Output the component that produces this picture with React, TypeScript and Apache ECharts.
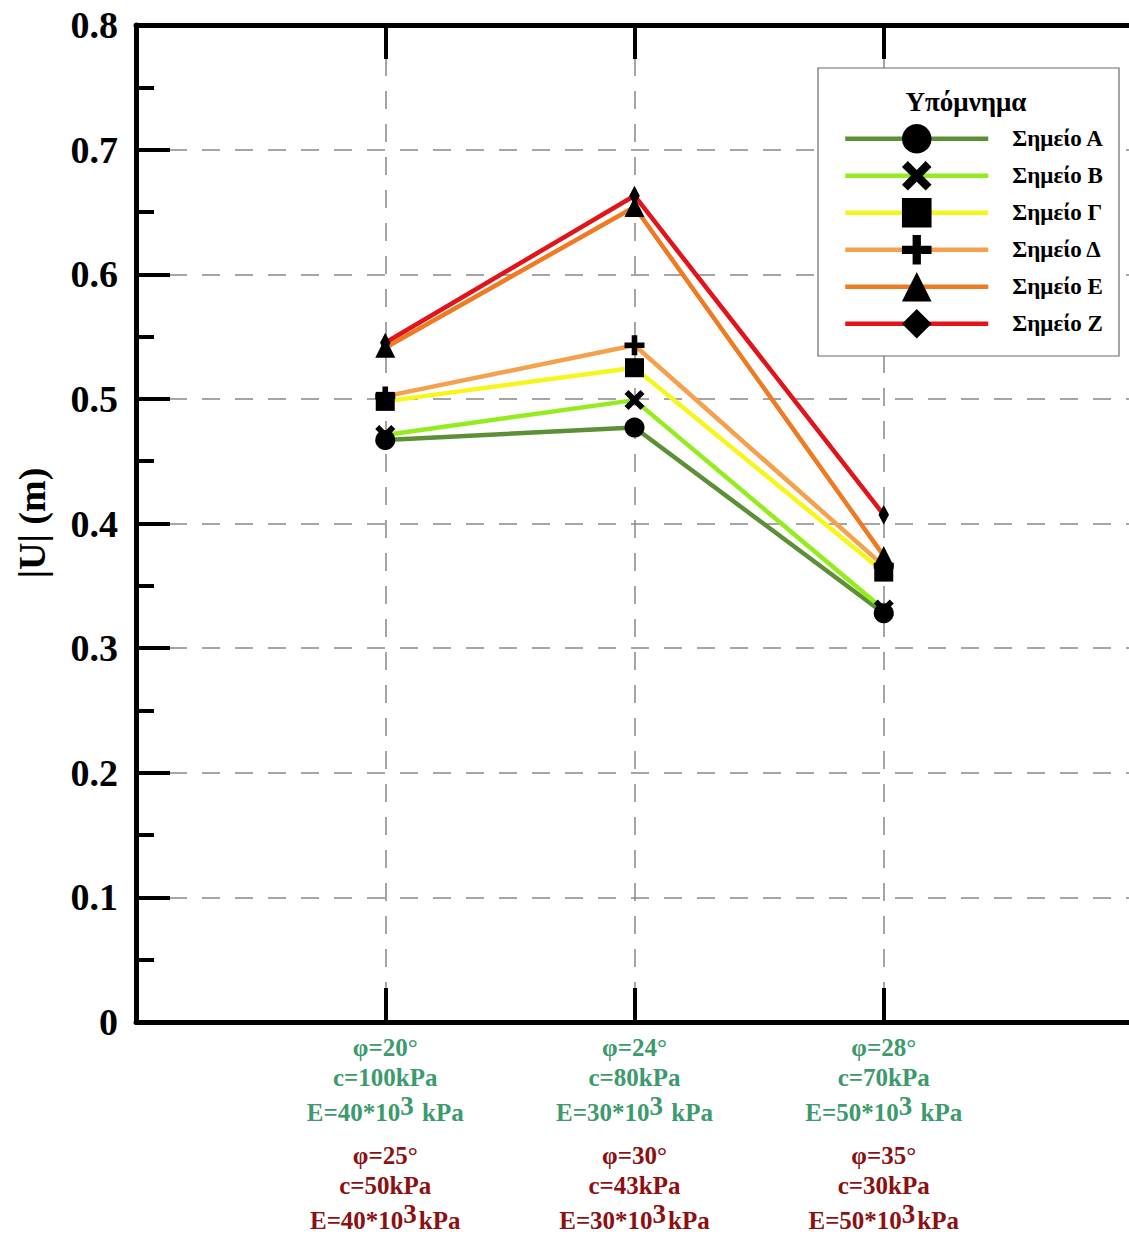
import React, { useEffect, useRef } from 'react';
import * as echarts from 'echarts';

// Series (monitoring points) and their displacement magnitudes |U| in metres
const seriesNames = ['Σημείο Α', 'Σημείο Β', 'Σημείο Γ', 'Σημείο Δ', 'Σημείο Ε', 'Σημείο Ζ'];
const xPositions = [1, 2, 3];
const pointA = [0.467, 0.477, 0.328];
const pointB = [0.471, 0.499, 0.331];
const pointG = [0.498, 0.525, 0.361];
const pointD = [0.502, 0.543, 0.366];
const pointE = [0.541, 0.654, 0.374];
const pointZ = [0.545, 0.663, 0.407];
const seriesValues = [pointA, pointB, pointG, pointD, pointE, pointZ];
const seriesColors = ['#5d8f36', '#94ec1e', '#f6f61c', '#f4a04c', '#ee7a22', '#e2141a'];

// Soil parameter sets shown under each position
const phiSet1 = ['φ=20°', 'φ=24°', 'φ=28°'];
const cSet1 = ['c=100kPa', 'c=80kPa', 'c=70kPa'];
const eSet1 = ['40', '30', '50'];
const phiSet2 = ['φ=25°', 'φ=30°', 'φ=35°'];
const cSet2 = ['c=50kPa', 'c=43kPa', 'c=30kPa'];
const eSet2 = ['40', '30', '50'];

const FONT = "'Liberation Serif', 'Times New Roman', serif";

const SYMBOL_CROSS = 'path://M2,0L5,3L8,0L10,2L7,5L10,8L8,10L5,7L2,10L0,8L3,5L0,2Z';
const SYMBOL_PLUS = 'path://M3.6,0H6.4V3.6H10V6.4H6.4V10H3.6V6.4H0V3.6H3.6Z';
const SYMBOL_DIAMOND = 'path://M5,0L10,9.5L5,19L0,9.5Z';
const seriesSymbols = ['circle', SYMBOL_CROSS, 'rect', SYMBOL_PLUS, 'triangle', SYMBOL_DIAMOND];
const seriesSymbolSizes = [20, 20, 19, 20, 20, 20];

const GREEN = '#3c9a6c';
const RED = '#8c1010';

export default function App() {
  const ref = useRef<HTMLDivElement>(null);

  useEffect(() => {
    if (!ref.current) return;
    const chart = echarts.init(ref.current, undefined, { renderer: 'svg' });

    const xLabel = (v: number) => {
      const i = xPositions.indexOf(v);
      if (i < 0) return '';
      return [
        `{g|${phiSet1[i]}}`,
        `{g|${cSet1[i]}}`,
        `{ge|E=${eSet1[i]}*10}{gs|3}{ge| kPa}`,
        `{sp| }`,
        `{r|${phiSet2[i]}}`,
        `{r|${cSet2[i]}}`,
        `{re|E=${eSet2[i]}*10}{rs|3}{re|kPa}`,
      ].join('\n');
    };

    const base = { fontFamily: FONT, fontWeight: 'bold' as const, fontSize: 25 };
    const sup = { ...base, fontSize: 27, lineHeight: 30, verticalAlign: 'top', padding: [0, 2, 0, 0] };

    const option: any = {
      animation: false,
      backgroundColor: '#ffffff',
      grid: {
        left: 136,
        top: 25,
        width: 997,
        bottom: 214,
        containLabel: false,
        outerBoundsMode: 'none',
      },
      xAxis: [
        {
          type: 'value',
          min: 0,
          max: 4,
          interval: 1,
          axisLine: { show: true, lineStyle: { color: '#000', width: 5 } },
          axisTick: { show: true, inside: true, length: 34, lineStyle: { color: '#000', width: 4 } },
          splitLine: { show: true, lineStyle: { color: '#888', width: 1.5, type: [18, 15] } },
          axisLabel: {
            margin: 10,
            formatter: xLabel,
            rich: {
              g: { ...base, color: GREEN, lineHeight: 30 },
              ge: { ...base, color: GREEN, lineHeight: 40 },
              gs: { ...sup, color: GREEN },
              sp: { fontSize: 2, lineHeight: 8 },
              r: { ...base, color: RED, lineHeight: 30 },
              re: { ...base, color: RED, lineHeight: 40 },
              rs: { ...sup, color: RED },
            },
          },
        },
        {
          type: 'value',
          position: 'top',
          min: 0,
          max: 4,
          interval: 1,
          axisLine: { show: true, lineStyle: { color: '#000', width: 5 } },
          axisTick: { show: true, inside: true, length: 34, lineStyle: { color: '#000', width: 4 } },
          splitLine: { show: false },
          axisLabel: { show: false },
        },
      ],
      yAxis: {
        type: 'value',
        min: 0,
        max: 0.8,
        interval: 0.1,
        axisLine: { show: true, lineStyle: { color: '#000', width: 5 } },
        axisTick: { show: true, inside: true, length: 34, lineStyle: { color: '#000', width: 4 } },
        minorTick: { show: true, splitNumber: 2, length: 18, lineStyle: { color: '#000', width: 4 } },
        splitLine: { show: true, lineStyle: { color: '#888', width: 1.5, type: [18, 15] } },
        axisLabel: {
          margin: 18,
          fontFamily: FONT,
          fontWeight: 'bold',
          fontSize: 38,
          color: '#000',
          formatter: (v: number) => (Math.round(v * 10) / 10).toString(),
        },
      },
      legend: {
        orient: 'vertical',
        left: 843,
        top: 124,
        itemWidth: 143,
        itemHeight: 37,
        itemGap: 7.4,
        padding: 0,
        z: 5,
        lineStyle: { width: 4.5 },
        textStyle: {
          fontFamily: FONT,
          fontWeight: 'bold',
          fontSize: 23,
          color: '#000',
          padding: [0, 0, 0, 19],
        },
        data: seriesNames,
      },
      graphic: [
        {
          type: 'rect',
          z: 3,
          shape: { x: 818, y: 68, width: 301, height: 288 },
          style: { fill: '#ffffff', stroke: '#6a6a6a', lineWidth: 1.2 },
        },
        {
          type: 'text',
          z: 6,
          x: 966,
          y: 102,
          style: {
            text: 'Υπόμνημα',
            fontFamily: FONT,
            fontWeight: 'bold',
            fontSize: 27,
            fill: '#000',
            align: 'center',
            verticalAlign: 'middle',
          },
        },
        {
          type: 'text',
          z: 6,
          x: 32,
          y: 523,
          rotation: Math.PI / 2,
          style: {
            text: '|U| (m)',
            fontFamily: FONT,
            fontWeight: 'bold',
            fontSize: 38,
            fill: '#000',
            align: 'center',
            verticalAlign: 'middle',
          },
        },
      ],
      series: seriesNames.map((name, si) => ({
        name,
        type: 'line',
        xAxisIndex: 0,
        data: xPositions.map((x, i) => [x, seriesValues[si][i]]),
        symbol: seriesSymbols[si],
        symbolSize: seriesSymbolSizes[si],
        symbolKeepAspect: true,
        showAllSymbol: true,
        lineStyle: { color: seriesColors[si], width: 4.5 },
        itemStyle: { color: '#000', borderWidth: 0 },
        emphasis: { disabled: true },
        z: 2,
      })),
    };

    chart.setOption(option);
    return () => chart.dispose();
  }, []);

  return (
    <div
      ref={ref}
      style={{ position: 'absolute', left: 0, top: 0, width: 1129, height: 1236 }}
    />
  );
}
